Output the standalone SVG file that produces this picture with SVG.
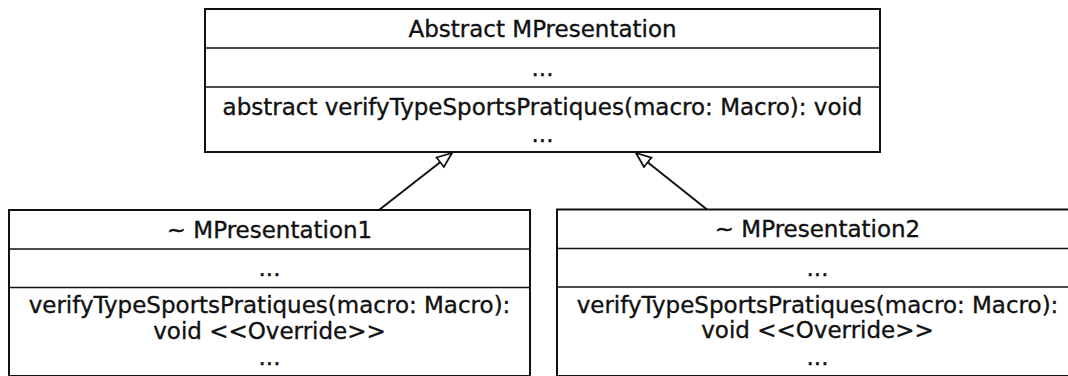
<svg xmlns="http://www.w3.org/2000/svg" width="1068" height="376" viewBox="0 0 1068 376">
  <style>
    .box { fill: #ffffff; stroke: #111111; stroke-width: 2; }
    .sep { stroke: #111111; stroke-width: 1.6; }
    .txt { font-family: "DejaVu Sans", "Liberation Sans", sans-serif; font-size: 23px; fill: #111111; stroke: #111111; stroke-width: 0.35; text-anchor: middle; }
    .edge { stroke: #111111; stroke-width: 2; fill: none; }
  </style>
  <defs>
    <!-- hollow triangle for generalization -->
    <marker id="gen" markerUnits="userSpaceOnUse" markerWidth="18" markerHeight="16" refX="16" refY="7" orient="auto">
      <path d="M1,1 L16,7 L1,13 Z" fill="#ffffff" stroke="#111111" stroke-width="1.8" stroke-linejoin="miter"/>
    </marker>
  </defs>
  <rect width="1068" height="376" fill="#ffffff"/>

  <g id="MPresentation">
    <rect class="box" x="205" y="9" width="675" height="143"/>
    <line class="sep" x1="205" y1="48" x2="880" y2="48"/>
    <line class="sep" x1="205" y1="87" x2="880" y2="87"/>
    <text class="txt" x="542.5" y="36.5">Abstract MPresentation</text>
    <text class="txt" x="542.5" y="75.5">...</text>
    <text class="txt" x="542.5" y="115">abstract verifyTypeSportsPratiques(macro: Macro): void</text>
    <text class="txt" x="542.5" y="142">...</text>
  </g>

  <g id="MPresentation1">
    <rect class="box" x="9" y="210" width="521" height="166"/>
    <line class="sep" x1="9" y1="249" x2="530" y2="249"/>
    <line class="sep" x1="9" y1="287.5" x2="530" y2="287.5"/>
    <text class="txt" x="269.5" y="237.5">~ MPresentation1</text>
    <text class="txt" x="269.5" y="276">...</text>
    <text class="txt" x="269.5" y="313">verifyTypeSportsPratiques(macro: Macro):</text>
    <text class="txt" x="269.5" y="338.5">void &lt;&lt;Override&gt;&gt;</text>
    <text class="txt" x="269.5" y="365">...</text>
  </g>

  <g id="MPresentation2">
    <rect class="box" x="557" y="209.5" width="521" height="166.5"/>
    <line class="sep" x1="557" y1="248.5" x2="1078" y2="248.5"/>
    <line class="sep" x1="557" y1="287" x2="1078" y2="287"/>
    <text class="txt" x="817.5" y="237">~ MPresentation2</text>
    <text class="txt" x="817.5" y="275.5">...</text>
    <text class="txt" x="817.5" y="312.5">verifyTypeSportsPratiques(macro: Macro):</text>
    <text class="txt" x="817.5" y="338">void &lt;&lt;Override&gt;&gt;</text>
    <text class="txt" x="817.5" y="364.5">...</text>
  </g>

  <g id="connectors">
    <line class="edge" x1="379" y1="210" x2="452" y2="153" marker-end="url(#gen)"/>
    <line class="edge" x1="707" y1="209.5" x2="636" y2="153" marker-end="url(#gen)"/>
  </g>
</svg>
